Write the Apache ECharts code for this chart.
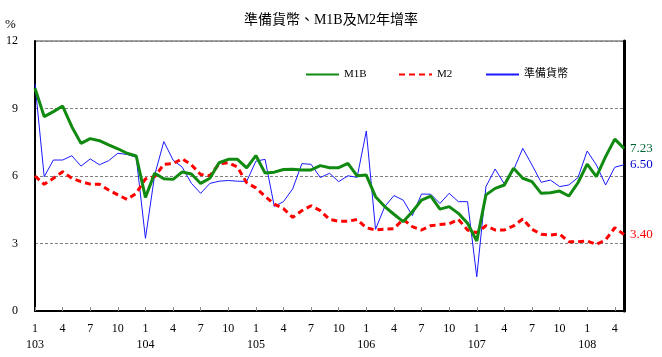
<!DOCTYPE html>
<html>
<head>
<meta charset="utf-8">
<script src="https://cdn.jsdelivr.net/npm/echarts@6/dist/echarts.min.js"></script>
<style>html,body{margin:0;padding:0;background:#fff;}#c{width:662px;height:357px;}</style>
</head>
<body>
<div id="c"></div>
<script>
const title = '準備貨幣、M1B及M2年增率';
const years = ['103','104','105','106','107','108'];
const monthCount = 65; // 103/1 .. 108/5
const categories = [];
for (let i = 0; i < monthCount; i++) {
  categories.push(years[Math.floor(i / 12)] + '/' + (i % 12 + 1));
}
const m1b = [9.90,8.64,8.86,9.11,8.19,7.45,7.66,7.57,7.38,7.21,7.01,6.89,
  5.05,6.12,5.88,5.85,6.18,6.09,5.67,5.90,6.59,6.74,6.74,6.36,
  6.91,6.13,6.17,6.29,6.30,6.27,6.27,6.46,6.37,6.37,6.56,6.01,
  6.04,5.08,4.64,4.30,3.97,4.41,4.93,5.11,4.53,4.64,4.34,3.90,
  3.11,5.16,5.45,5.60,6.34,5.90,5.75,5.23,5.26,5.33,5.11,5.70,
  6.53,5.97,6.86,7.64,7.23];
const m2 = [6.00,5.63,5.90,6.19,5.90,5.75,5.64,5.63,5.38,5.16,4.96,5.23,
  5.87,5.97,6.52,6.55,6.77,6.49,6.07,6.01,6.54,6.59,6.40,5.70,
  5.47,5.10,4.75,4.55,4.16,4.46,4.68,4.46,4.07,3.99,3.99,4.07,
  3.70,3.60,3.64,3.66,4.07,3.75,3.60,3.79,3.84,3.88,4.07,3.60,
  3.48,3.79,3.60,3.60,3.78,4.09,3.63,3.41,3.38,3.42,3.08,3.08,
  3.11,2.96,3.16,3.70,3.40];
const reserve = [10.10,5.97,6.71,6.71,6.90,6.44,6.76,6.50,6.68,7.01,6.96,6.83,
  3.23,6.04,7.53,6.71,6.39,5.67,5.23,5.67,5.77,5.80,5.77,5.76,
  6.66,6.74,4.65,4.86,5.43,6.55,6.52,5.93,6.12,5.75,6.01,5.94,
  8.00,3.63,4.64,5.13,4.93,4.24,5.20,5.19,4.78,5.23,4.86,4.86,
  1.52,5.53,6.31,5.64,6.27,7.23,6.49,5.72,5.82,5.53,5.60,5.93,
  7.11,6.49,5.60,6.39,6.50];
const yTicks = [0, 3, 6, 9, 12];
const legendNames = ['M1B', 'M2', '準備貨幣'];
const legendLefts = [305, 398, 485];

const serif = "'Liberation Serif','Noto Sans CJK TC',serif";
const chart = echarts.init(document.getElementById('c'), null, {renderer: 'canvas'});
function endLbl(color) {
  return {show: true, distance: 6, color: color, fontFamily: serif, fontSize: 13,
    formatter: p => Number(p.value).toFixed(2)};
}
chart.setOption({
  animation: false,
  backgroundColor: '#fff',
  title: {text: title, left: 'center', top: 8,
    textStyle: {fontFamily: serif, fontSize: 14, fontWeight: 'normal', color: '#000'}},
  graphic: [{type: 'text', left: 5, top: 18, style: {text: '%', font: "13px 'Liberation Serif'", fill: '#000'}}],
  legend: legendNames.map((n, i) => ({
    data: [n], left: legendLefts[i], top: 69, padding: 0, itemWidth: 33, itemHeight: 12,
    itemStyle: {opacity: 0},
    textStyle: {fontFamily: serif, fontSize: 11, color: '#000'}
  })),
  grid: {left: 35, right: 38, top: 41, bottom: 46, show: true, borderColor: '#444', borderWidth: 1},
  xAxis: {
    type: 'category', data: categories, boundaryGap: false,
    axisLine: {lineStyle: {color: '#000', width: 2}},
    axisTick: {inside: true, interval: 2, length: 4, lineStyle: {color: '#888'}},
    axisLabel: {interval: 2, margin: 10, color: '#000', fontFamily: serif, fontSize: 12, lineHeight: 16,
      formatter: v => { const [y, m] = v.split('/'); return m === '1' ? m + '\n' + y : m; }},
    splitLine: {show: false}
  },
  yAxis: [{
    type: 'value', min: yTicks[0], max: yTicks[yTicks.length - 1], interval: 3,
    axisLine: {show: true, lineStyle: {color: '#000', width: 2}},
    axisTick: {show: false},
    axisLabel: {color: '#000', fontFamily: serif, fontSize: 12, margin: 17},
    splitLine: {show: true, lineStyle: {color: '#808080', type: [3, 2], width: 1}}
  }, {
    type: 'value', min: 0, max: 12, interval: 3, position: 'right',
    axisLine: {show: true, lineStyle: {color: '#000', width: 3}},
    axisTick: {show: false}, axisLabel: {show: false}, splitLine: {show: false}
  }],
  series: [
    {name: '準備貨幣', type: 'line', data: reserve, symbol: 'none',
      lineStyle: {color: '#1a1aff', width: 1}, itemStyle: {color: '#1a1aff'},
      endLabel: endLbl('#0000cc'), z: 2},
    {name: 'M2', type: 'line', data: m2, symbol: 'none',
      lineStyle: {color: '#ff0000', width: 3, type: [6, 4]}, itemStyle: {color: '#ff0000'},
      endLabel: endLbl('#ff0000'), z: 3},
    {name: 'M1B', type: 'line', data: m1b, symbol: 'none',
      lineStyle: {color: '#108a10', width: 3}, itemStyle: {color: '#108a10'},
      endLabel: endLbl('#006633'), z: 4}
  ]
});
</script>
</body>
</html>
